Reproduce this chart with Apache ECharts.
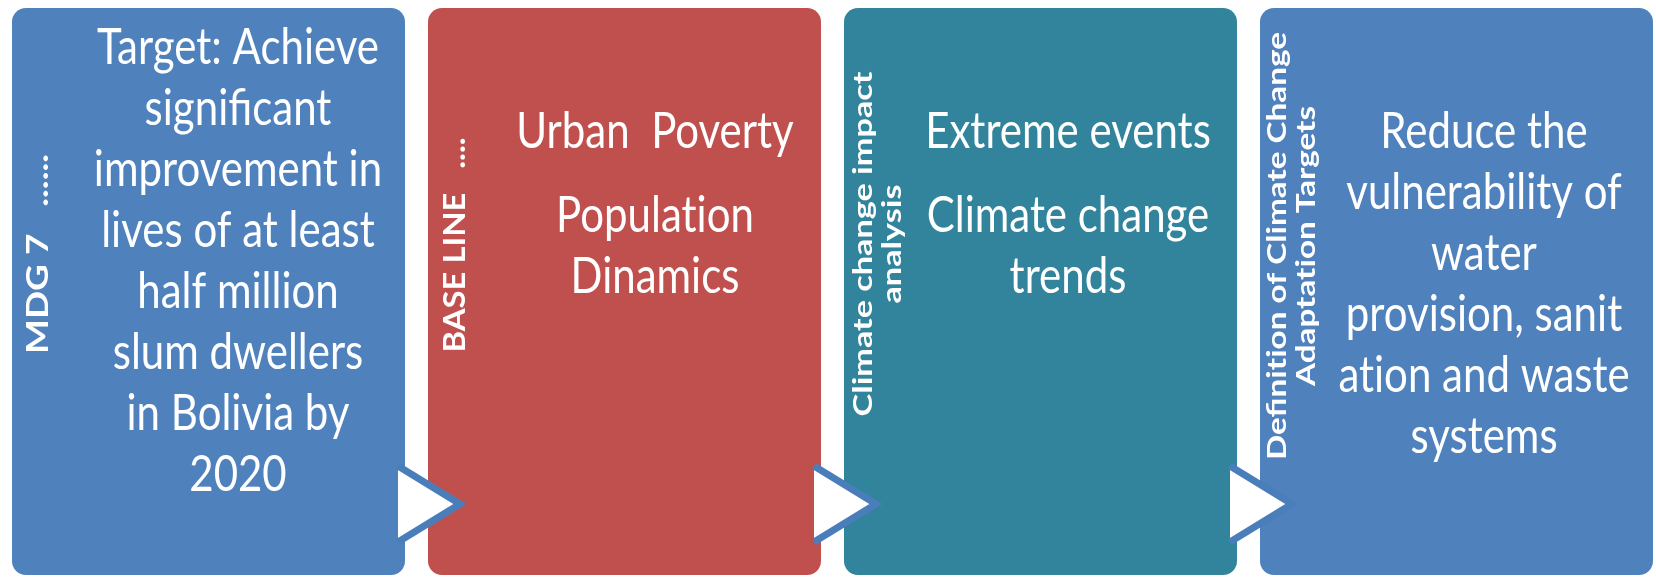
<!DOCTYPE html>
<html lang="en">
<head>
<meta charset="UTF-8">
<title>MDG 7 - climate change adaptation steps</title>
<script src="https://cdn.jsdelivr.net/npm/echarts@6/dist/echarts.min.js"></script>
<style>
    html, body { margin: 0; padding: 0; background: #fff; }
    #main { width: 1656px; height: 579px; }
</style>
</head>
<body>
<div id="main"></div>
<script>
    // one entry per step, left to right
    var stepLabels = ['MDG 7   ......', 'BASE LINE   ....', 'Climate change impact\nanalysis', 'Definition of Climate Change\nAdaptation Targets'];
    var stepTexts = [
        [['Target: Achieve', 'significant', 'improvement in', 'lives of at least', 'half million', 'slum dwellers', 'in Bolivia by', '2020']],
        [['Urban  Poverty'], ['Population', 'Dinamics']],
        [['Extreme events'], ['Climate change', 'trends']],
        [['Reduce the', 'vulnerability of', 'water', 'provision, sanit', 'ation and waste', 'systems']]
    ];
    var stepColors = ['#4F81BD', '#C0504D', '#31849B', '#4F81BD'];
    var steps = [0, 1, 2, 3];
    var arrows = [0, 1, 2];   // arrow after step i

    // layout, pixels relative to each box
    var boxW = 393 / 416;      // box width in axis units (one unit = one step)
    var textTop = [40, 124, 124, 124];
    var textX = [226, 227, 224, 224];
    var sideX = [26, 27, 34, 32];
    var sideMid = [246, 237, 236, 238];
    var sideLen = [200, 215, 345, 428];
    var sideSize = [30, 30, 27, 27];

    var ctx = document.createElement('canvas').getContext('2d');
    function measure(str, font) {
        ctx.font = font;
        return ctx.measureText(str).width;
    }
    // keep "ti" from turning into a ligature
    function noLig(s) {
        return s.replace(/t(?=i)/g, 't\u200C');
    }

    function renderStep(params, api) {
        var i = api.value(0);
        var tl = api.coord([i, 1]);
        var br = api.coord([i + boxW, 0]);
        var kids = [{
            type: 'rect',
            shape: { x: tl[0], y: tl[1], width: br[0] - tl[0], height: br[1] - tl[1], r: 14 },
            style: { fill: stepColors[i] }
        }];

        // rotated side label, stretched along its length like the original
        var font = 'bold ' + sideSize[i] + 'px Lato';
        var lines = noLig(stepLabels[i]).split('\n');
        var natural = Math.max.apply(null, lines.map(function (l) { return measure(l, font); }));
        kids.push({
            type: 'text',
            x: tl[0] + sideX[i],
            y: tl[1] + sideMid[i],
            rotation: Math.PI / 2,
            scaleX: sideLen[i] / natural,
            style: {
                text: lines.join('\n'), fill: '#fff', fontFamily: 'Lato', fontWeight: 'bold', fontSize: sideSize[i],
                lineHeight: 29, align: 'center', verticalAlign: 'middle'
            }
        });

        // main text, paragraphs with a little extra space
        var y = tl[1] + textTop[i];
        stepTexts[i].forEach(function (par, p) {
            if (p > 0) y += 23;
            par.forEach(function (line) {
                kids.push({
                    type: 'text',
                    x: tl[0] + textX[i],
                    y: y,
                    scaleY: 1.2,
                    style: {
                        text: noLig(line), fill: '#fff', fontFamily: 'Lato', fontSize: 42,
                        align: 'center', verticalAlign: 'middle'
                    }
                });
                y += 61;
            });
        });
        return { type: 'group', children: kids };
    }

    function renderArrow(params, api) {
        var i = api.value(0);
        var br = api.coord([i + boxW, 0]);
        var lx = br[0] - 7, tip = br[0] + 55, cy = br[1] - 71, half = 38;
        var pts = [[lx, cy - half], [tip, cy], [lx, cy + half]];
        return {
            type: 'group',
            children: [
                { type: 'polygon', shape: { points: pts }, style: { fill: '#fff' } },
                { type: 'polyline', shape: { points: pts }, style: { stroke: '#4A7EBB', lineWidth: 7, fill: null, lineJoin: 'miter' } }
            ]
        };
    }

    var chart = echarts.init(document.getElementById('main'));
    chart.setOption({
        animation: false,
        grid: { left: 12, right: 3, top: 8, bottom: 4 },
        xAxis: { type: 'value', min: 0, max: 3 + boxW, show: false },
        yAxis: { type: 'value', min: 0, max: 1, show: false },
        series: [
            {
                type: 'custom',
                renderItem: renderStep,
                data: steps.map(function (s) { return [s, 1]; }),
                silent: true
            },
            {
                type: 'custom',
                renderItem: renderArrow,
                data: arrows.map(function (s) { return [s, 0]; }),
                silent: true,
                z: 3
            }
        ]
    });
</script>
</body>
</html>
